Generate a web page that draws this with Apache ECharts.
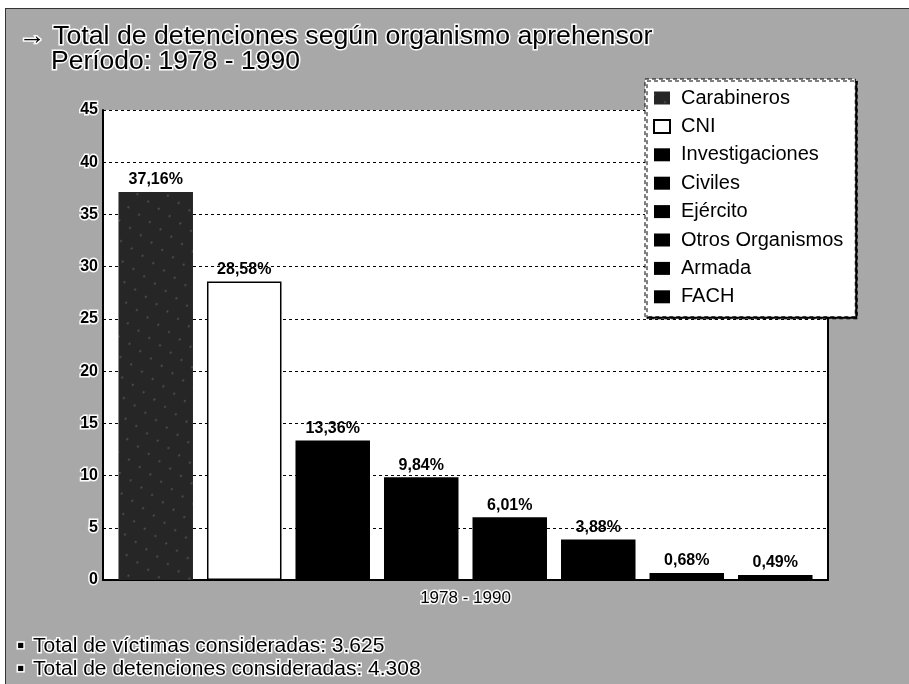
<!DOCTYPE html>
<html>
<head>
<meta charset="utf-8">
<script src="https://cdn.jsdelivr.net/npm/echarts@6/dist/echarts.min.js"></script>
<style>
html,body{margin:0;padding:0;background:#a8a8a8;}
#chart{width:909px;height:684px;}
</style>
</head>
<body>
<div id="chart"></div>
<script>
// ---- data ----
const categories = ['1978 - 1990'];
const organismos = ['Carabineros', 'CNI', 'Investigaciones', 'Civiles', 'Ejército', 'Otros Organismos', 'Armada', 'FACH'];
const valores = [37.16, 28.58, 13.36, 9.84, 6.01, 3.88, 0.68, 0.49];
const etiquetas = ['37,16%', '28,58%', '13,36%', '9,84%', '6,01%', '3,88%', '0,68%', '0,49%'];
const yMin = 0, yMax = 45, yStep = 5;
const tituloLinea1 = '→ Total de detenciones según organismo aprehensor';
const tituloLinea2 = 'Período: 1978 - 1990';
const notas = ['Total de víctimas consideradas: 3.625', 'Total de detenciones consideradas: 4.308'];

// ---- styles ----
const FONT = 'Liberation Sans, Arial, Helvetica, sans-serif';
const halo = { textBorderColor: 'rgba(255,255,255,0.95)', textBorderWidth: 3 };
const barStyles = [
  { color: '#262626', decal: { symbol: 'rect', symbolSize: 0.35, color: 'rgba(210,210,210,0.35)', dashArrayX: [4, 9], dashArrayY: [5, 11], rotation: 0.6 } },
  { color: '#ffffff', borderColor: '#000', borderWidth: 1.5 },
  { color: '#000' }, { color: '#000' }, { color: '#000' }, { color: '#000' }, { color: '#000' }, { color: '#000' }
];

const chart = echarts.init(document.getElementById('chart'), null, { renderer: 'canvas' });

const series = organismos.map((name, i) => ({
  name: name,
  type: 'bar',
  barWidth: 74.5,
  barGap: '18.8%',
  itemStyle: barStyles[i],
  data: [valores[i]],
  label: {
    show: true,
    position: 'top',
    distance: 4,
    formatter: () => etiquetas[i],
    fontFamily: FONT,
    fontSize: 16,
    fontWeight: 'bold',
    color: '#000'
  }
}));

const option = {
  backgroundColor: '#a8a8a8',
  animation: false,
  graphic: [
    { type: 'rect', silent: true, z: -10, shape: { x: 0, y: 0, width: 909, height: 8 }, style: { fill: '#fff' } },
    { type: 'rect', silent: true, z: -10, shape: { x: 0, y: 0, width: 5, height: 684 }, style: { fill: '#fff' } },
    { type: 'line', silent: true, z: -9, shape: { x1: 5, y1: 8.5, x2: 909, y2: 8.5 }, style: { stroke: '#333', lineWidth: 1 } },
    { type: 'line', silent: true, z: -9, shape: { x1: 5.5, y1: 8, x2: 5.5, y2: 684 }, style: { stroke: '#333', lineWidth: 1 } }
  ],
  title: [
    { text: tituloLinea1, left: 19, top: 23, textStyle: Object.assign({ fontFamily: FONT, fontSize: 26.7, fontWeight: 'normal', color: '#000' }, halo), padding: 0 },
    { text: tituloLinea2, left: 51, top: 48, textStyle: Object.assign({ fontFamily: FONT, fontSize: 26.5, fontWeight: 'normal', color: '#000' }, halo), padding: 0 },
    { text: '▪', left: 17, top: 636, textStyle: Object.assign({ fontFamily: FONT, fontSize: 21, fontWeight: 'normal', color: '#000' }, halo), padding: 0 },
    { text: notas[0], left: 33, top: 636, textStyle: Object.assign({ fontFamily: FONT, fontSize: 21, fontWeight: 'normal', color: '#000' }, halo), padding: 0 },
    { text: '▪', left: 17, top: 659, textStyle: Object.assign({ fontFamily: FONT, fontSize: 21, fontWeight: 'normal', color: '#000' }, halo), padding: 0 },
    { text: notas[1], left: 33, top: 659, textStyle: Object.assign({ fontFamily: FONT, fontSize: 21, fontWeight: 'normal', color: '#000' }, halo), padding: 0 }
  ],
  legend: {
    orient: 'vertical',
    left: 645,
    top: 79,
    padding: [9, 12, 10, 8],
    itemGap: 8.4,
    itemWidth: 16,
    itemHeight: 13,
    icon: 'rect',
    backgroundColor: '#fff',
    borderColor: '#000',
    borderWidth: 1,
    borderType: [4, 3],
    shadowColor: '#000',
    shadowBlur: 0,
    shadowOffsetX: 2,
    shadowOffsetY: 2,
    textStyle: { fontFamily: FONT, fontSize: 20, lineHeight: 20, color: '#000', padding: [0, 0, 0, 6] },
    data: organismos
  },
  grid: {
    left: 103,
    right: 81,
    top: 110,
    bottom: 104,
    show: true,
    backgroundColor: '#fff',
    borderWidth: 0,
    containLabel: false
  },
  xAxis: {
    type: 'category',
    data: categories,
    axisLine: { show: true, lineStyle: { color: '#000', width: 2 } },
    axisTick: { show: false },
    axisLabel: Object.assign({ fontFamily: FONT, fontSize: 17, color: '#000', margin: 10 }, halo)
  },
  yAxis: [
    {
      type: 'value',
      min: yMin,
      max: yMax,
      interval: yStep,
      axisLine: { show: true, lineStyle: { color: '#000', width: 2 } },
      axisTick: { show: false },
      axisLabel: Object.assign({ fontFamily: FONT, fontSize: 16, fontWeight: 'bold', color: '#000', margin: 5 }, halo),
      splitLine: { show: true, lineStyle: { color: '#000', width: 1, type: [3, 3] } }
    },
    {
      type: 'value',
      min: yMin,
      max: yMax,
      interval: yStep,
      position: 'right',
      axisLine: { show: true, lineStyle: { color: '#000', width: 2 } },
      axisTick: { show: false },
      axisLabel: { show: false },
      splitLine: { show: false }
    }
  ],
  series: series
};

chart.setOption(option);
</script>
</body>
</html>
